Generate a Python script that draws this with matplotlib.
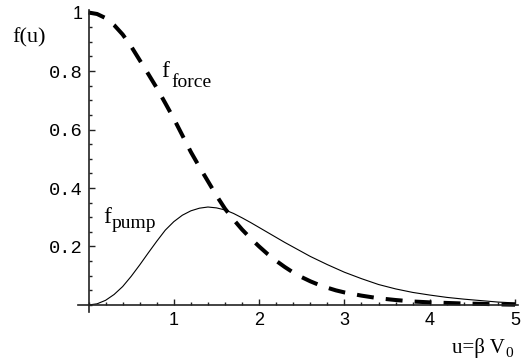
import matplotlib
matplotlib.use("Agg")
import matplotlib.pyplot as plt
from matplotlib.ticker import MultipleLocator, FixedLocator

# Sampled curves, u = beta * V0
u = [0.0, 0.1, 0.2, 0.3, 0.4, 0.5, 0.6, 0.7, 0.8, 0.9,
     1.0, 1.1, 1.2, 1.3, 1.4, 1.5, 1.6, 1.7, 1.8, 1.9,
     2.0, 2.1, 2.2, 2.3, 2.4, 2.5, 2.6, 2.7, 2.8, 2.9,
     3.0, 3.2, 3.4, 3.6, 3.8, 4.0, 4.2, 4.4, 4.6, 4.8, 5.0]
f_force = [1.000, 0.995, 0.981, 0.957, 0.925, 0.884, 0.837, 0.790, 0.742, 0.690,
           0.637, 0.580, 0.523, 0.472, 0.423, 0.374, 0.329, 0.292, 0.258, 0.228,
           0.200, 0.174, 0.151, 0.130, 0.111, 0.095, 0.081, 0.069, 0.059, 0.050,
           0.043, 0.032, 0.023, 0.017, 0.012, 0.009, 0.007, 0.005, 0.004, 0.002, 0.001]
f_pump = [0.000, 0.004, 0.016, 0.036, 0.063, 0.098, 0.137, 0.178, 0.218, 0.256,
          0.285, 0.307, 0.322, 0.331, 0.335, 0.332, 0.325, 0.313, 0.298, 0.282,
          0.265, 0.248, 0.231, 0.214, 0.198, 0.182, 0.166, 0.152, 0.138, 0.125,
          0.112, 0.090, 0.070, 0.055, 0.043, 0.034, 0.026, 0.020, 0.015, 0.010, 0.007]

x_ticks = [1, 2, 3, 4, 5]
x_labels = ["1", "2", "3", "4", "5"]
y_ticks = [0.2, 0.4, 0.6, 0.8, 1.0]
y_labels = ["0.2", "0.4", "0.6", "0.8", "1"]

W, H = 532, 364
fig = plt.figure(figsize=(W / 100, H / 100), dpi=100)
fig.patch.set_facecolor("white")

# axes box in pixel terms: left 78.3, right 517.6, top 9.6, bottom 312.3
ax = fig.add_axes([78.3 / W, 1 - 312.3 / H, (517.6 - 78.3) / W, (312.3 - 9.6) / H])
ax.set_xlim(-0.12, 5.03)
ax.set_ylim(-0.025, 1.01)
ax.set_facecolor("none")

axis_col = "#222222"
for side in ("top", "right"):
    ax.spines[side].set_visible(False)
ax.spines["left"].set_position(("data", 0))
ax.spines["bottom"].set_position(("data", 0))
for side in ("left", "bottom"):
    ax.spines[side].set_linewidth(1.2)
    ax.spines[side].set_color(axis_col)

ax.xaxis.set_major_locator(FixedLocator(x_ticks))
ax.xaxis.set_minor_locator(MultipleLocator(0.2))
ax.yaxis.set_major_locator(FixedLocator(y_ticks))
ax.yaxis.set_minor_locator(MultipleLocator(0.05))
ax.set_xticklabels(x_labels)
ax.set_yticklabels(y_labels)

ax.tick_params(which="both", direction="in", color=axis_col, width=1.0)
ax.tick_params(which="major", length=4)
ax.tick_params(which="minor", length=2.5)
ax.tick_params(axis="x", which="major", pad=5)
ax.tick_params(axis="y", which="major", pad=4)

for lab in ax.get_xticklabels():
    lab.set_fontfamily("Liberation Sans")
    lab.set_fontsize(13)
for lab in ax.get_yticklabels():
    if lab.get_text() == "1":
        lab.set_fontfamily("Liberation Sans")
        lab.set_fontsize(13)
    else:
        lab.set_fontfamily("Liberation Mono")
        lab.set_fontsize(13.5)

ax.plot(u, f_pump, color="black", lw=0.8, solid_joinstyle="round")
ax.plot(u, f_force, color="black", lw=2.9, dashes=(4.2, 3.0),
        dash_capstyle="butt")

serif = "Liberation Serif"


def px_text(x, y, s, size, **kw):
    fig.text(x / W, 1 - y / H, s, fontsize=size, family=serif,
             va="baseline", ha="left", **kw)


# axis captions
px_text(12, 42, "f(u)", 16)
px_text(452, 353, "u=\u03b2 V", 15)
px_text(505, 357, "0", 11)

# curve labels
px_text(161, 77, "f", 17)
px_text(171, 87, "force", 14)
px_text(103, 223, "f", 17)
px_text(112, 228, "pump", 14)

fig.savefig("out.png", dpi=100)
